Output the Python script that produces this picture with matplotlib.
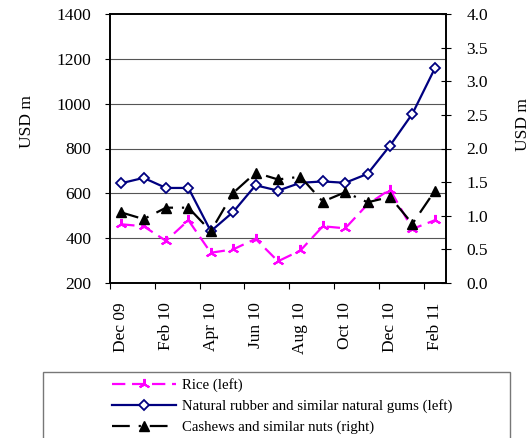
import numpy as np
import matplotlib
matplotlib.use("Agg")
import matplotlib.pyplot as plt
from matplotlib.patches import Rectangle

plt.rcParams['font.family'] = ['Liberation Serif', 'DejaVu Serif']

# Monthly values, Dec 09 .. Feb 11
months = ["Dec 09", "Jan 10", "Feb 10", "Mar 10", "Apr 10", "May 10", "Jun 10", "Jul 10",
          "Aug 10", "Sep 10", "Oct 10", "Nov 10", "Dec 10", "Jan 11", "Feb 11"]
rice = [462, 453, 388, 480, 335, 350, 397, 297, 345, 453, 444, 551, 617, 441, 480]
rubber = [645, 669, 624, 624, 431, 517, 636, 612, 647, 653, 647, 687, 813, 955, 1157]
cashews = [1.05, 0.95, 1.12, 1.12, 0.77, 1.34, 1.64, 1.54, 1.58, 1.21, 1.35, 1.20, 1.28, 0.88, 1.37]

left_ticks = [200, 400, 600, 800, 1000, 1200, 1400]
right_ticks = [0.0, 0.5, 1.0, 1.5, 2.0, 2.5, 3.0, 3.5, 4.0]

FS = 12.5
W, H = 531, 438
fig = plt.figure(figsize=(W / 100, H / 100), dpi=100)
ax = fig.add_axes([110 / W, 1 - 283 / H, 336 / W, 269 / H])
ax2 = ax.twinx()

x = np.arange(len(months))

# gridlines on the left scale
for v in left_ticks[1:-1]:
    ax.axhline(v, color='#555555', lw=0.8, zorder=0)

l_rice, = ax.plot(x, rice, color='#ff00ff', lw=1.6, dashes=(6, 3),
                  marker=(3, 2, 0), ms=8, mew=1.5, label='Rice (left)', zorder=3)
l_rub, = ax.plot(x, rubber, color='#000080', lw=1.6, marker='D', ms=5,
                 mfc='white', mec='#000080', mew=1.3,
                 label='Natural rubber and similar natural gums (left)', zorder=4)
l_cash, = ax2.plot(x, cashews, color='black', lw=1.6, dashes=(8, 4, 1, 4),
                   marker='^', ms=7, label='Cashews and similar nuts (right)', zorder=5)

ax.set_xlim(-0.5, 14.5)
ax.set_ylim(200, 1400)
ax2.set_ylim(0, 4.0)
ax.set_yticks(left_ticks)
ax.set_yticklabels([str(v) for v in left_ticks], fontsize=FS)
ax2.set_yticks(right_ticks)
ax2.set_yticklabels(['%.1f' % v for v in right_ticks], fontsize=FS)

ax.set_xticks(np.arange(-0.5, 14, 2))
ax.set_xticklabels([])
ax.set_xticks(x[::2], minor=True)
ax.set_xticklabels(months[::2], minor=True, rotation=90, fontsize=FS)
ax.tick_params(axis='x', which='minor', length=0, pad=14)
ax.tick_params(axis='x', which='major', direction='out', length=4)
ax.tick_params(axis='y', direction='out', length=3.5, pad=10)
ax2.tick_params(axis='y', direction='inout', length=7, pad=11)

for sp in list(ax.spines.values()) + list(ax2.spines.values()):
    sp.set_linewidth(1.2)

fig.text(27 / W, 1 - 122 / H, 'USD m', rotation=90, ha='center', va='center', fontsize=FS)
fig.text(523 / W, 1 - 125 / H, 'USD m', rotation=90, ha='center', va='center', fontsize=FS)

# legend box, running past the bottom edge
fig.patches.append(Rectangle((43 / W, -0.05), 467 / W, 1 - 372 / H + 0.05,
                             transform=fig.transFigure, fill=False,
                             edgecolor='#777777', lw=1.0))
fig.legend(handles=[l_rice, l_rub, l_cash], loc='upper left',
           bbox_to_anchor=(102 / W, 1 - 368 / H), frameon=False, fontsize=10.6,
           handlelength=4.35, handletextpad=0.4, labelspacing=0.48, borderpad=0.2)

fig.savefig('out.png', dpi=100)
